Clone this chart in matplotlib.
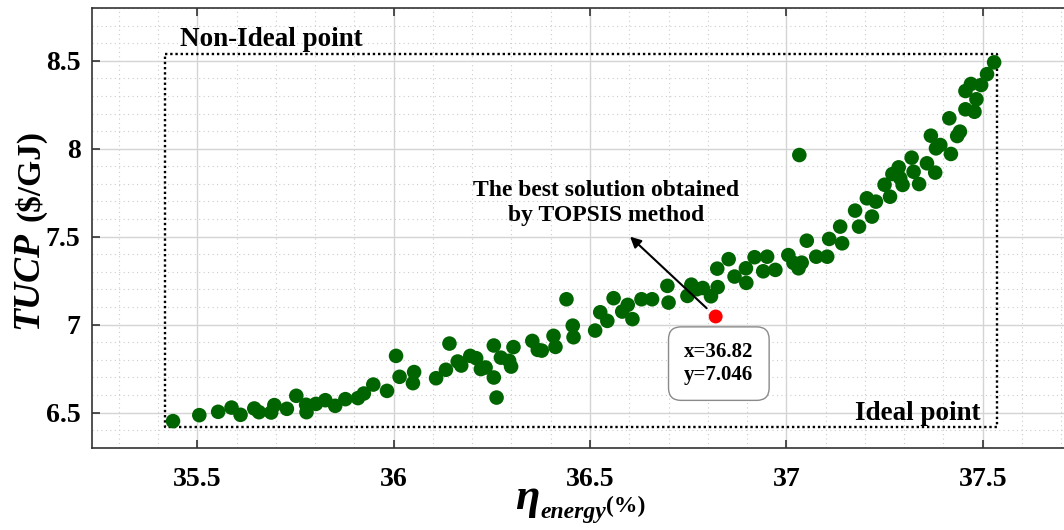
import numpy as np
import matplotlib
matplotlib.use("Agg")
import matplotlib.pyplot as plt
from matplotlib.ticker import MultipleLocator, FormatStrFormatter

# pareto front points
eta_energy = [
    35.438, 35.505, 35.553, 35.587, 35.610, 35.645, 35.657, 35.688, 35.696, 35.728,
    35.752, 35.777, 35.778, 35.802, 35.826, 35.851, 35.877, 35.909, 35.924, 35.948,
    35.983, 36.006, 36.015, 36.049, 36.052,
    36.108, 36.133, 36.142, 36.163, 36.172, 36.195, 36.210, 36.222, 36.234, 36.255,
    36.255, 36.262, 36.273, 36.294, 36.299, 36.305, 36.353, 36.367, 36.377, 36.407,
    36.412, 36.440, 36.456, 36.458, 36.513, 36.526, 36.544, 36.560, 36.582, 36.596,
    36.608, 36.631, 36.658, 36.697, 36.700, 36.748, 36.758, 36.772, 36.787, 36.808,
    36.825, 36.824, 36.853, 36.868, 36.897, 36.898, 36.919, 36.941, 36.951, 36.972,
    37.005, 37.018, 37.031, 37.039, 37.033, 37.052, 37.076, 37.104, 37.109, 37.137,
    37.142, 37.175, 37.185, 37.205, 37.218, 37.228, 37.250, 37.264, 37.270, 37.286,
    37.290, 37.296, 37.319, 37.324, 37.338, 37.358, 37.379, 37.368, 37.381, 37.392,
    37.419, 37.415, 37.435, 37.442, 37.456, 37.479, 37.456, 37.470, 37.484, 37.496,
    37.511, 37.529,
]
tucp = [
    6.451, 6.485, 6.504, 6.528, 6.487, 6.523, 6.502, 6.500, 6.542, 6.521,
    6.595, 6.544, 6.502, 6.549, 6.570, 6.538, 6.576, 6.582, 6.608, 6.659,
    6.623, 6.822, 6.703, 6.667, 6.730,
    6.695, 6.743, 6.892, 6.790, 6.767, 6.822, 6.809, 6.747, 6.756, 6.881,
    6.699, 6.585, 6.812, 6.794, 6.761, 6.872, 6.907, 6.856, 6.852, 6.936,
    6.873, 7.144, 6.994, 6.928, 6.966, 7.070, 7.021, 7.150, 7.074, 7.112,
    7.031, 7.144, 7.144, 7.220, 7.125, 7.163, 7.227, 7.201, 7.208, 7.161,
    7.213, 7.318, 7.372, 7.273, 7.320, 7.237, 7.383, 7.303, 7.386, 7.311,
    7.395, 7.351, 7.320, 7.352, 7.964, 7.477, 7.386, 7.386, 7.487, 7.557,
    7.462, 7.648, 7.557, 7.718, 7.614, 7.699, 7.795, 7.727, 7.856, 7.894,
    7.832, 7.794, 7.949, 7.869, 7.799, 7.917, 7.864, 8.074, 8.002, 8.021,
    7.970, 8.173, 8.072, 8.097, 8.224, 8.210, 8.328, 8.368, 8.281, 8.362,
    8.424, 8.491,
]

best_x, best_y = 36.82, 7.046
ideal = (37.537, 6.42)
non_ideal = (35.418, 8.54)

x_ticks = [35.5, 36, 36.5, 37, 37.5]
y_ticks = [6.5, 7, 7.5, 8, 8.5]

serif = "Liberation Serif"

fig = plt.figure(figsize=(10.64, 5.30), dpi=100)
ax = fig.add_axes([0.0862, 0.1553, 0.9138, 0.8296])

ax.set_xlim(35.231, 37.707)
ax.set_ylim(6.30, 8.80)

# grid
ax.xaxis.set_minor_locator(MultipleLocator(0.1))
ax.yaxis.set_minor_locator(MultipleLocator(0.1))
ax.grid(which='major', color='#d4d4d4', linewidth=1.0, linestyle='-')
ax.grid(which='minor', color='#cccccc', linewidth=0.8, linestyle=(0, (1, 3)))
ax.set_axisbelow(True)

# ideal / non-ideal box
ax.plot([non_ideal[0], ideal[0], ideal[0], non_ideal[0], non_ideal[0]],
        [non_ideal[1], non_ideal[1], ideal[1], ideal[1], non_ideal[1]],
        color='black', linestyle=(0, (1, 1.2)), linewidth=1.7, zorder=2)

ax.scatter(eta_energy, tucp, s=110, color='#006400', edgecolors='none', zorder=3)
ax.scatter([best_x], [best_y], s=100, color='#ff0000', edgecolors='none', zorder=4)

ax.text(35.456, 8.585, "Non-Ideal point", family=serif, weight='bold',
        fontsize=19.5, ha='left', va='baseline')
ax.text(37.495, 6.458, "Ideal point", family=serif, weight='bold',
        fontsize=19.5, ha='right', va='baseline')

ax.annotate("", xy=(36.602, 7.50), xytext=(36.797, 7.093),
            arrowprops=dict(arrowstyle='-|>', color='black', lw=1.5, mutation_scale=16,
                            shrinkA=0, shrinkB=0))
ax.text(36.54, 7.69, "The best solution obtained\nby TOPSIS method", family=serif,
        weight='bold', fontsize=17, ha='center', va='center', linespacing=1.25)

ax.text(36.828, 6.778, f"x={best_x:.2f}\ny={best_y:.3f}", family=serif, weight='bold',
        fontsize=15, ha='center', va='center', linespacing=1.15,
        bbox=dict(boxstyle='round,pad=0.75,rounding_size=0.6', facecolor='white',
                  edgecolor='#8a8a8a', linewidth=1.0))

# ticks
ax.set_xticks(x_ticks)
ax.set_yticks(y_ticks)
ax.xaxis.set_major_formatter(FormatStrFormatter('%g'))
ax.yaxis.set_major_formatter(FormatStrFormatter('%g'))
ax.tick_params(which='major', direction='in', length=6, width=1.2, color='#333333',
               top=True, right=False, labelsize=20)
ax.tick_params(which='minor', length=0, top=False, right=False)
ax.tick_params(axis='x', pad=14)
ax.tick_params(axis='y', pad=8)
for lab in ax.get_xticklabels() + ax.get_yticklabels():
    lab.set_family(serif)
    lab.set_weight('bold')

for side in ['left', 'bottom', 'top']:
    ax.spines[side].set_color('#333333')
    ax.spines[side].set_linewidth(1.2)
ax.spines['right'].set_visible(False)

# axis labels
fig.text(28 / 1064, 1 - 280 / 530, "TUCP", rotation=90, family=serif, weight='bold',
         style='italic', fontsize=27, ha='center', va='center')
fig.text(30 / 1064, 1 - 176 / 530, "(\\$/GJ)", rotation=90, family=serif, weight='bold',
         fontsize=24, ha='center', va='center')

fig.text(515 / 1064, 1 - 509 / 530, "η", family=serif, weight='bold', style='italic',
         fontsize=32, ha='left', va='baseline')
fig.text(540 / 1064, 1 - 518 / 530, "energy", family=serif, weight='bold', style='italic',
         fontsize=17, ha='left', va='baseline')
fig.text(606 / 1064, 1 - 512 / 530, "(%)", family=serif, weight='bold',
         fontsize=17, ha='left', va='baseline')

fig.savefig("out.png", dpi=100)
